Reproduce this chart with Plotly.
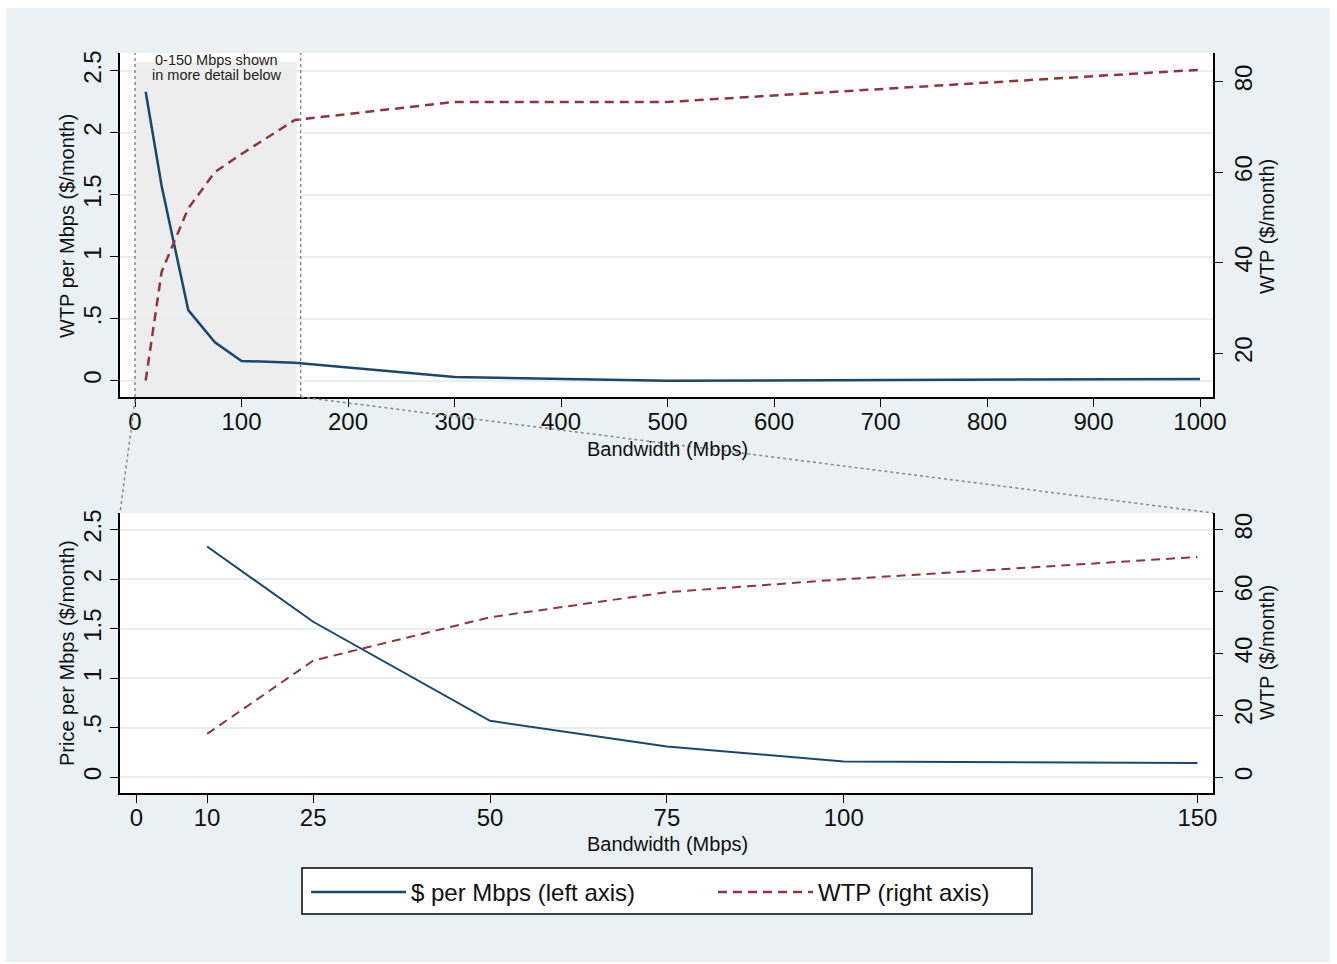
import plotly.graph_objects as go

# ---- data ----
bandwidth = [10, 25, 50, 75, 100, 150, 300, 500, 1000]
price_per_mbps = [2.33, 1.57, 0.57, 0.31, 0.16, 0.145, 0.03, 0.0, 0.015]
wtp = [14, 38, 52, 60, 64, 71.5, 75.5, 75.5, 82.6]

detail_bw = [10, 25, 50, 75, 100, 150]
detail_price = [2.33, 1.57, 0.57, 0.31, 0.16, 0.145]
detail_wtp = [14, 37.7, 51.7, 59.8, 64.0, 71.2]

top_xticks = [0, 100, 200, 300, 400, 500, 600, 700, 800, 900, 1000]
bot_xticks = [0, 10, 25, 50, 75, 100, 150]
left_ticks = [0, 0.5, 1, 1.5, 2, 2.5]
left_ticktext = ["0", ".5", "1", "1.5", "2", "2.5"]
top_right_ticks = [20, 40, 60, 80]
bot_right_ticks = [0, 20, 40, 60, 80]

NAVY = "#1a476f"
MAROON = "#90353b"
BG = "#EAF1F4"
GRID = "#E6EEF1"
FONT = "Liberation Sans"

W, H = 1337, 964
def px(x):
    return x / W
def py(y):
    return 1 - y / H

fig = go.Figure()

# top panel
fig.add_trace(go.Scatter(x=bandwidth, y=price_per_mbps, mode="lines",
                         line=dict(color=NAVY, width=2.5),
                         name="$ per Mbps (left axis)", xaxis="x", yaxis="y",
                         legend="legend"))
fig.add_trace(go.Scatter(x=bandwidth, y=wtp, mode="lines",
                         line=dict(color=MAROON, width=2.5, dash="9px,6px"),
                         name="WTP (right axis)", xaxis="x", yaxis="y2",
                         legend="legend2"))
# bottom panel
fig.add_trace(go.Scatter(x=detail_bw, y=detail_price, mode="lines",
                         line=dict(color=NAVY, width=2),
                         showlegend=False, xaxis="x2", yaxis="y3"))
fig.add_trace(go.Scatter(x=detail_bw, y=detail_wtp, mode="lines",
                         line=dict(color=MAROON, width=2, dash="9px,6px"),
                         showlegend=False, xaxis="x2", yaxis="y4"))

xdom = [px(120), px(1213)]
top_dom = [py(397), py(53)]
bot_dom = [py(793), py(513)]

tickfont = dict(family=FONT, size=24, color="#111")
axis_common = dict(showline=True, linecolor="black", linewidth=1.5,
                   ticks="outside", ticklen=8, tickwidth=1.3, tickcolor="black",
                   zeroline=False, tickfont=tickfont, automargin=False)

legend_common = dict(orientation="h", yanchor="top", xanchor="left",
                     bgcolor="rgba(0,0,0,0)", borderwidth=0,
                     font=dict(family=FONT, size=24, color="#111"),
                     itemwidth=95)

fig.update_layout(
    width=W, height=H,
    margin=dict(l=0, r=0, t=0, b=0, autoexpand=False),
    paper_bgcolor="white",
    plot_bgcolor="white",
    font=dict(family=FONT, color="#111"),
    xaxis=dict(domain=xdom, anchor="y", range=[-14.1, 1012.2],
               tickvals=top_xticks, showgrid=False, ticklabelstandoff=-6,
               **axis_common),
    yaxis=dict(domain=top_dom, anchor="x", range=[-0.131, 2.643],
               tickvals=left_ticks, ticktext=left_ticktext, tickangle=-90,
               showgrid=True, gridcolor=GRID, gridwidth=1.5, **axis_common),
    yaxis2=dict(overlaying="y", side="right", anchor="x", range=[10.35, 86.3],
                tickvals=top_right_ticks, tickangle=-90, showgrid=False,
                **axis_common),
    xaxis2=dict(domain=xdom, anchor="y3", range=[-2.31, 152.2],
                tickvals=bot_xticks, showgrid=False, ticklabelstandoff=-6,
                **axis_common),
    yaxis3=dict(domain=bot_dom, anchor="x2", range=[-0.159, 2.668],
                tickvals=left_ticks, ticktext=left_ticktext, tickangle=-90,
                showgrid=True, gridcolor=GRID, gridwidth=1.5, **axis_common),
    yaxis4=dict(overlaying="y3", side="right", anchor="x2", range=[-5.09, 85.4],
                tickvals=bot_right_ticks, tickangle=-90, showgrid=False,
                **axis_common),
    legend=dict(x=px(306), y=py(870), **legend_common),
    legend2=dict(x=px(713), y=py(870), **legend_common),
)

shapes = [
    # background panel
    dict(type="rect", xref="paper", yref="paper", x0=px(6), x1=px(1330),
         y0=py(962), y1=py(8), fillcolor=BG, line=dict(width=0), layer="below"),
    dict(type="rect", xref="paper", yref="paper", x0=xdom[0], x1=xdom[1],
         y0=top_dom[0], y1=top_dom[1], fillcolor="white", line=dict(width=0), layer="below"),
    dict(type="rect", xref="paper", yref="paper", x0=xdom[0], x1=xdom[1],
         y0=bot_dom[0], y1=bot_dom[1], fillcolor="white", line=dict(width=0), layer="below"),
    # shaded detail region
    dict(type="rect", xref="x", yref="y", x0=0, x1=151.8, y0=-0.131, y1=2.573,
         fillcolor="rgba(200,200,200,0.33)", line=dict(width=0), layer="below"),
    # dotted verticals
    dict(type="line", xref="x", yref="paper", x0=0, x1=0, y0=top_dom[0], y1=top_dom[1],
         line=dict(color="#888", width=1.5, dash="dot")),
    dict(type="line", xref="x", yref="paper", x0=155.5, x1=155.5, y0=top_dom[0], y1=top_dom[1],
         line=dict(color="#888", width=1.5, dash="dot")),
    # connector lines
    dict(type="line", xref="paper", yref="paper", x0=px(135), y0=py(400), x1=px(120), y1=py(513),
         line=dict(color="#888", width=1.5, dash="dot")),
    dict(type="line", xref="paper", yref="paper", x0=px(301), y0=py(397), x1=px(1213), y1=py(513),
         line=dict(color="#888", width=1.5, dash="dot")),
    # legend box
    dict(type="rect", xref="paper", yref="paper", x0=px(302), x1=px(1032),
         y0=py(914), y1=py(868), fillcolor="white", line=dict(color="black", width=1.5),
         layer="above"),
]
fig.update_layout(shapes=shapes)

title_font = dict(family=FONT, size=20, color="#111")
def ann(text, x, y, angle=0, font=title_font):
    return dict(text=text, xref="paper", yref="paper", x=px(x), y=py(y),
                xanchor="center", yanchor="middle", textangle=angle,
                showarrow=False, font=font, align="center")

note_font = dict(family=FONT, size=14.5, color="#222")
annotations = [
    ann("0-150 Mbps shown", 216, 60, font=note_font),
    ann("in more detail below", 216, 75, font=note_font),
    ann("WTP per Mbps ($/month)", 67, 226, -90),
    ann("WTP ($/month)", 1267, 227, -90),
    ann("Bandwidth (Mbps)", 667, 449),
    ann("Price per Mbps ($/month)", 67, 653, -90),
    ann("WTP ($/month)", 1267, 653, -90),
    ann("Bandwidth (Mbps)", 667, 844),
]
fig.update_layout(annotations=annotations)

fig.write_html("out.html", config={"responsive": False, "displayModeBar": False},
               post_script="document.body.style.margin='0';document.body.style.overflow='hidden';document.documentElement.style.overflow='hidden';")
